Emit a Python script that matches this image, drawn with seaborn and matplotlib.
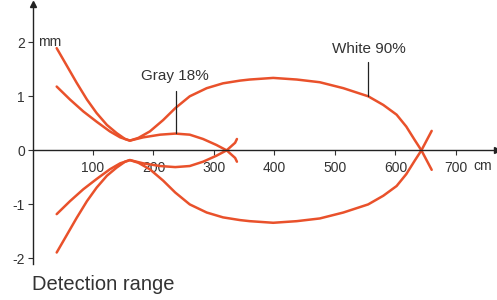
import matplotlib
matplotlib.use("Agg")
import matplotlib.pyplot as plt
import seaborn as sns
import pandas as pd

# Detection range curves (upper half, lower half is mirrored)
white_x = [40, 56, 73, 90, 106, 123, 139, 153, 161, 175, 194, 216, 236, 260, 288,
           315, 343, 359, 398, 437, 475, 514, 555, 580, 602, 618, 632, 643, 660]
white_y = [1.89, 1.58, 1.25, 0.94, 0.69, 0.47, 0.32, 0.21, 0.18, 0.23, 0.35, 0.56,
           0.78, 1.00, 1.15, 1.24, 1.29, 1.31, 1.34, 1.31, 1.26, 1.15, 1.00, 0.84,
           0.66, 0.44, 0.19, 0.00, -0.36]
gray_x = [40, 62, 84, 106, 128, 145, 161, 183, 211, 236, 260, 282, 304, 321, 335, 338]
gray_y = [1.18, 0.94, 0.72, 0.53, 0.35, 0.24, 0.18, 0.24, 0.29, 0.31, 0.29, 0.21,
          0.10, 0.00, -0.14, -0.21]

x_ticks = [100, 200, 300, 400, 500, 600, 700]
y_ticks = [-2, -1, 0, 1, 2]

sns.set_style("ticks")
plt.rcParams["font.family"] = ["Liberation Sans", "DejaVu Sans"]
plt.rcParams["axes.unicode_minus"] = False

red = "#E9512B"
txt = "#333333"

fig = plt.figure(figsize=(4.97, 3.0), dpi=100)
ax = fig.add_axes([32.5 / 497, 35.6 / 300, 464.5 / 497, 260 / 300])

curves = []
for name, xs, ys in [("white", white_x, white_y), ("gray", gray_x, gray_y)]:
    curves.append(pd.DataFrame({"x": xs, "y": ys}))
    curves.append(pd.DataFrame({"x": xs, "y": [-v for v in ys]}))

for df in curves:
    sns.lineplot(data=df, x="x", y="y", ax=ax, color=red, linewidth=1.8,
                 sort=False, estimator=None)

ax.set_xlim(0, 768)
ax.set_ylim(-2.11, 2.70)

# axes through origin
for s in ["top", "right"]:
    ax.spines[s].set_visible(False)
ax.spines["left"].set_position(("data", 0))
ax.spines["bottom"].set_position(("data", 0))
for s in ["left", "bottom"]:
    ax.spines[s].set_color("#222222")
    ax.spines[s].set_linewidth(1.0)
ax.plot(1, 0, ">", color="#222222", markersize=5, transform=ax.get_yaxis_transform(), clip_on=False)
ax.plot(0, 1, "^", color="#222222", markersize=5, transform=ax.get_xaxis_transform(), clip_on=False)

ax.set_xticks(x_ticks)
ax.set_yticks(y_ticks)
ax.set_yticklabels([str(v) for v in y_ticks])
ax.tick_params(axis="both", length=3.5, width=0.8, color="#333333",
               labelsize=10, labelcolor=txt, pad=2)
ax.tick_params(axis="x", pad=4)
ax.set_xlabel("")
ax.set_ylabel("")

ax.text(9, 2, "mm", ha="left", va="center", fontsize=10, color=txt)
ax.annotate("cm", xy=(745, 0), xytext=(0, -6.5), textcoords="offset points",
            ha="center", va="top", fontsize=10, color=txt)

# labels with leader lines
ax.plot([237, 237], [0.32, 1.09], color="#222222", linewidth=0.9)
ax.text(236, 1.37, "Gray 18%", ha="center", va="center", fontsize=11, color=txt)
ax.plot([554, 554], [1.0, 1.63], color="#222222", linewidth=0.9)
ax.text(556, 1.87, "White 90%", ha="center", va="center", fontsize=11, color=txt)

fig.text(32 / 497, 1 - 285 / 300, "Detection range", ha="left", va="center",
         fontsize=14.5, color=txt)

fig.savefig("out.png", dpi=100)
